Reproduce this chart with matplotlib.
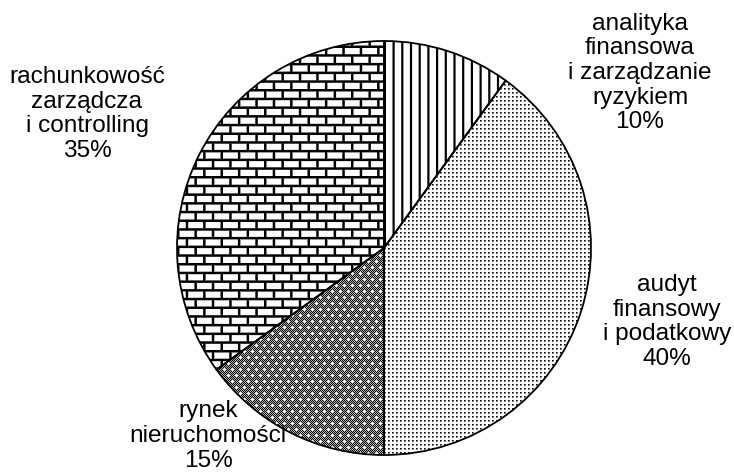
import numpy as np
import matplotlib
matplotlib.use("Agg")
import matplotlib.pyplot as plt

# ---- data ----
categories = ["analityka\nfinansowa\ni zarządzanie\nryzykiem",
              "audyt\nfinansowy\ni podatkowy",
              "rynek\nnieruchomości",
              "rachunkowość\nzarządcza\ni controlling"]
shares = [10, 40, 15, 35]
pct_labels = ["10%", "40%", "15%", "35%"]

W, H = 734, 474
plt.rcParams['font.family'] = ['Liberation Sans', 'DejaVu Sans']

fig = plt.figure(figsize=(W / 100, H / 100), dpi=100)
ax = fig.add_axes([0, 0, 1, 1])

cx, cy, R = 384, H - 248, 207
wedges, _ = ax.pie(shares, startangle=90, counterclock=False,
                   center=(cx, cy), radius=R, frame=True,
                   wedgeprops=dict(facecolor='none', edgecolor='black',
                                   linewidth=1.3, zorder=3))
ax.axis('off')

# ---- texture patterns (pixel grids) ----
yy, xx = np.mgrid[0:H, 0:W].astype(float)


def cover(d, s, w):
    """fraction of a 1px cell at offset d (mod s) covered by a line of width w"""
    d = np.mod(d, s)
    a = np.clip(np.minimum(d + 1, w) - np.maximum(d, 0), 0, 1)
    b = np.clip(np.minimum(d + 1, s + w) - np.maximum(d, s), 0, 1)
    return np.clip(a + b, 0, 1)


# vertical lines
vert = 1 - cover(xx - 1.0, 8.7, 2.2)

# bricks
bh, bw = 8.7, 17.4
row = np.floor((yy - 2) / bh)
hline = cover(yy - 2, bh, 2.5)
vline = cover(xx - 3 - np.mod(row, 2) * bw / 2, bw, 2.5)
brick = 1 - np.maximum(hline, vline)

# fine dots
xi, yi = xx.astype(int), yy.astype(int)
dots = np.ones((H, W))
mx, my = xi % 4, yi % 4
dots[(mx == 0) & (my == 0)] = 0.0
dots[(mx == 1) & (my == 0)] = 0.35
dots[(mx == 0) & (my == 1)] = 0.45
dots[(mx == 1) & (my == 1)] = 0.6

# dark checker with white spots
check = np.where((xi + yi) % 2 == 0, 0.0, 0.7)
sx = (xi + 4 * ((yi // 6) % 2)) % 8
sy = yi % 6
spot = ((sx == 4) & (sy == 3)) | ((sx == 3) & (sy == 3)) | ((sx == 5) & (sy == 3)) | \
       ((sx == 4) & (sy == 2)) | ((sx == 4) & (sy == 4))
check[spot] = 1.0

patterns = [vert, dots, check, brick]
for w, pat in zip(wedges, patterns):
    im = ax.imshow(pat, cmap='gray', vmin=0, vmax=1, extent=(0, W, 0, H),
                   origin='upper', interpolation='nearest', zorder=2)
    im.set_clip_path(w)
ax.set_xlim(0, W)
ax.set_ylim(0, H)
ax.set_aspect('auto')

# ---- labels ----
label_pos = [(640, 73), (667, 322), (208, 436), (87, 114)]
for cat, pct, (lx, ly) in zip(categories, pct_labels, label_pos):
    ax.text(lx, H - ly, cat + "\n" + pct, ha='center', va='center',
            fontsize=17.6, linespacing=1.15, color='black')

fig.savefig("out.png", dpi=100)
